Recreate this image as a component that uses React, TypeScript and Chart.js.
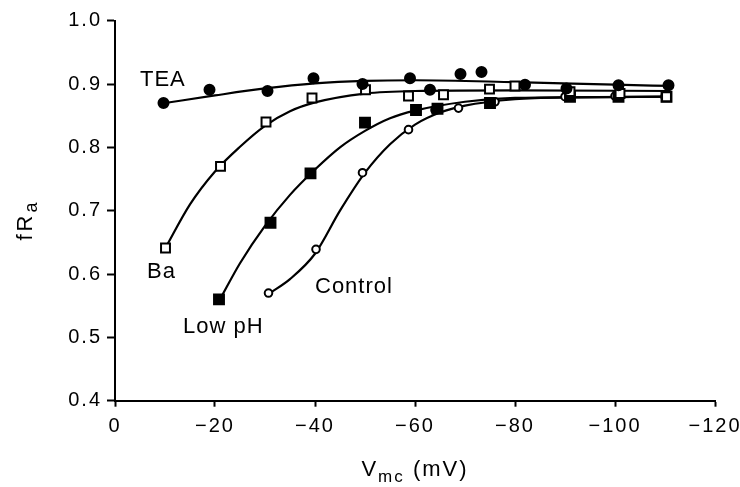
import React, { useEffect, useRef } from 'react';
import { Chart, registerables } from 'chart.js';

Chart.register(...registerables);

// ---- measured points ----
const teaV = [-9.7, -18.9, -30.5, -39.7, -49.5, -59.0, -63.0, -69.1, -73.3, -82.0, -90.3, -100.7, -110.7];
const teaFRa = [0.870, 0.891, 0.889, 0.909, 0.900, 0.909, 0.891, 0.916, 0.919, 0.899, 0.893, 0.898, 0.898];

const baV = [-10.1, -21.1, -30.2, -39.4, -50.1, -58.7, -65.7, -74.9, -80.0, -91.0, -101.0, -110.3];
const baFRa = [0.641, 0.770, 0.840, 0.878, 0.891, 0.881, 0.883, 0.892, 0.897, 0.888, 0.885, 0.880];

const lowPhV = [-20.8, -31.1, -39.1, -50.0, -60.2, -64.5, -75.0, -91.0, -100.7, -110.3];
const lowPhFRa = [0.560, 0.681, 0.759, 0.839, 0.859, 0.861, 0.870, 0.880, 0.880, 0.880];

const controlV = [-30.7, -40.2, -49.5, -58.7, -64.0, -68.7, -76.0, -90.0, -100.0, -110.0];
const controlFRa = [0.570, 0.639, 0.760, 0.828, 0.859, 0.862, 0.872, 0.880, 0.881, 0.880];

// ---- fitted curves ----
const teaCurveV = [-10, -20, -30, -40, -50, -60, -80, -100, -111];
const teaCurveFRa = [0.870, 0.882, 0.893, 0.901, 0.905, 0.906, 0.903, 0.899, 0.897];

const baCurveV = [-10, -15, -20, -25, -30, -35, -40, -50, -60, -80, -111];
const baCurveFRa = [0.640, 0.710, 0.762, 0.801, 0.834, 0.857, 0.871, 0.885, 0.889, 0.890, 0.889];

const lowPhCurveV = [-21, -25, -30, -35, -40, -45, -50, -55, -60, -70, -80, -111];
const lowPhCurveFRa = [0.560, 0.617, 0.676, 0.725, 0.765, 0.800, 0.826, 0.846, 0.858, 0.872, 0.878, 0.880];

const controlCurveV = [-31, -35, -40, -45, -50, -55, -60, -65, -70, -80, -90, -111];
const controlCurveFRa = [0.570, 0.592, 0.632, 0.700, 0.760, 0.805, 0.836, 0.855, 0.866, 0.876, 0.879, 0.880];

// ---- axis ticks ----
const xTicks = [0, -20, -40, -60, -80, -100, -120];
const yTicks = [0.4, 0.5, 0.6, 0.7, 0.8, 0.9, 1.0];

// ---- curve labels ----
const labelText = ['TEA', 'Ba', 'Low pH', 'Control'];
const labelV = [-5.0, -6.4, -13.6, -40.0];
const labelFRa = [0.8966, 0.593, 0.507, 0.570];

const pts = (xs: number[], ys: number[]) => xs.map((x, i) => ({ x, y: ys[i] }));

const FONT = '"Liberation Sans", Arial, sans-serif';

const textRun = (
  ctx: CanvasRenderingContext2D,
  parts: { t: string; size: number; dy: number }[],
  cx: number,
  baseY: number
) => {
  let total = 0;
  const widths = parts.map((p) => {
    ctx.font = `${p.size}px ${FONT}`;
    const w = ctx.measureText(p.t).width;
    total += w;
    return w;
  });
  let x = cx - total / 2;
  parts.forEach((p, i) => {
    ctx.font = `${p.size}px ${FONT}`;
    ctx.fillText(p.t, x, baseY + p.dy);
    x += widths[i];
  });
};

const overlay = {
  id: 'overlay',
  beforeDraw(chart: any) {
    chart.ctx.letterSpacing = '2px';
  },
  afterDraw(chart: any) {
    const ctx: CanvasRenderingContext2D = chart.ctx;
    const xs = chart.scales.x;
    const ys = chart.scales.y;
    ctx.save();
    ctx.fillStyle = '#000';
    ctx.textAlign = 'left';
    ctx.textBaseline = 'alphabetic';
    (ctx as any).letterSpacing = '1px';
    ctx.font = `22px ${FONT}`;
    labelText.forEach((t, i) => {
      ctx.fillText(t, xs.getPixelForValue(labelV[i]), ys.getPixelForValue(labelFRa[i]));
    });
    // x-axis title
    (ctx as any).letterSpacing = '2px';
    const cx = (chart.chartArea.left + chart.chartArea.right) / 2;
    textRun(
      ctx,
      [
        { t: 'V', size: 22, dy: 0 },
        { t: 'mc', size: 17, dy: 6 },
        { t: ' (mV)', size: 22, dy: 0 },
      ],
      cx,
      476
    );
    // y-axis title
    ctx.translate(24, 220);
    ctx.rotate(-Math.PI / 2);
    (ctx as any).letterSpacing = '3px';
    textRun(
      ctx,
      [
        { t: 'fR', size: 22, dy: 0 },
        { t: 'a', size: 18, dy: 5 },
      ],
      0,
      8
    );
    ctx.restore();
  },
};

export default function App() {
  const ref = useRef<HTMLCanvasElement>(null);
  useEffect(() => {
    const curve = (xs: number[], ys: number[]) => ({
      data: pts(xs, ys),
      showLine: true,
      borderColor: '#000',
      borderWidth: 2.2,
      pointRadius: 0,
      cubicInterpolationMode: 'monotone' as const,
      order: 1,
    });
    const marks = (xs: number[], ys: number[], style: string, r: number, fill: string) => ({
      data: pts(xs, ys),
      showLine: false,
      pointStyle: style,
      pointRadius: r,
      pointBorderWidth: 2,
      pointBorderColor: '#000',
      pointBackgroundColor: fill,
      order: 0,
    });
    const chart = new Chart(ref.current!, {
      type: 'scatter',
      data: {
        datasets: [
          curve(teaCurveV, teaCurveFRa),
          curve(baCurveV, baCurveFRa),
          curve(lowPhCurveV, lowPhCurveFRa),
          curve(controlCurveV, controlCurveFRa),
          marks(teaV, teaFRa, 'circle', 5, '#000'),
          marks(baV, baFRa, 'rect', 6.3, '#fff'),
          marks(lowPhV, lowPhFRa, 'rect', 7, '#000'),
          marks(controlV, controlFRa, 'circle', 3.8, '#fff'),
        ] as any,
      },
      options: {
        responsive: false,
        devicePixelRatio: 1,
        animation: false,
        layout: { padding: { left: 0, top: 20.7, right: 25, bottom: 0 } },
        plugins: { legend: { display: false }, tooltip: { enabled: false } },
        scales: {
          x: {
            type: 'linear',
            reverse: true,
            min: -120,
            max: 0,
            afterBuildTicks: (s: any) => {
              s.ticks = xTicks.map((v) => ({ value: v }));
            },
            afterFit: (s: any) => {
              s.height = 86.3;
              s.paddingLeft = 0;
              s.paddingRight = 0;
            },
            border: { display: true, color: '#000', width: 2 },
            grid: {
              drawOnChartArea: false,
              drawTicks: true,
              tickLength: 6,
              tickWidth: 2,
              tickColor: '#000',
            },
            ticks: {
              color: '#000',
              font: { family: FONT, size: 20 },
              padding: 8,
              maxRotation: 0,
              autoSkip: false,
              callback: (v: any) => (Number(v) === 0 ? '0' : '\u2212' + Math.abs(Number(v))),
            },
          },
          y: {
            type: 'linear',
            min: 0.4,
            max: 1.0,
            afterBuildTicks: (s: any) => {
              s.ticks = yTicks.map((v) => ({ value: v }));
            },
            afterFit: (s: any) => {
              s.width = 115;
              s.paddingTop = 0;
              s.paddingBottom = 0;
            },
            border: { display: true, color: '#000', width: 2 },
            grid: {
              drawOnChartArea: false,
              drawTicks: true,
              tickLength: 8,
              tickWidth: 2,
              tickColor: '#000',
            },
            ticks: {
              color: '#000',
              font: { family: FONT, size: 20 },
              padding: 5,
              autoSkip: false,
              callback: (v: any) => Number(v).toFixed(1),
            },
          },
        },
      },
      plugins: [overlay],
    } as any);
    return () => chart.destroy();
  }, []);
  return (
    <div style={{ position: 'absolute', left: 0, top: 0, width: 740, height: 487, background: '#fff' }}>
      <canvas ref={ref} width={740} height={487} />
    </div>
  );
}
